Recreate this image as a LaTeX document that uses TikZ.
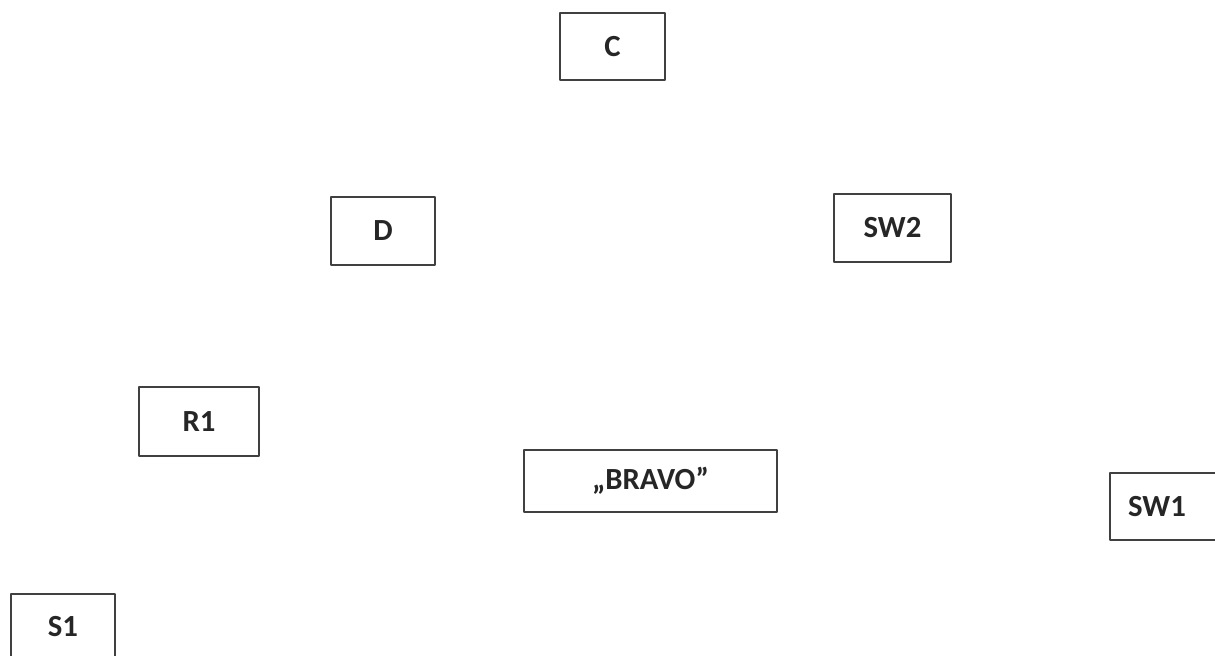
\documentclass[tikz,border=0pt]{standalone}
\usepackage{fontspec}
\setmainfont{Carlito}
\usetikzlibrary{positioning}
\tikzset{
  box/.style={draw=black!75,line width=0.85pt,rectangle,inner sep=0pt,
    font=\fontsize{17.5}{20}\selectfont\bfseries,text=black!85},
}
\begin{document}
\begin{tikzpicture}[x=0.02cm,y=-0.02cm,line join=round]
    % ============ Canvas ============
    \useasboundingbox (0,0) rectangle (1215,656);
    \clip (0,0) rectangle (1215,656);
    % ============ Boxes ============
    \node[box,minimum width=2.10cm,minimum height=1.34cm] (C)     at (612.5,46.5) {C};
    \node[box,minimum width=2.08cm,minimum height=1.36cm] (D)     at (383,231) {D};
    \node[box,minimum width=2.34cm,minimum height=1.36cm] (SW2)   at (892.5,228) {SW2};
    \node[box,minimum width=2.40cm,minimum height=1.38cm] (R1)    at (199,421.5) {R1};
    \node[box,minimum width=5.06cm,minimum height=1.24cm] (BRAVO) at (650.5,481) {„BRAVO”};
    \node[box,minimum width=2.24cm,minimum height=1.34cm] (SW1)   at (1166,506.5) {\hspace*{-0.36cm}SW1};
    \node[box,minimum width=2.08cm,minimum height=1.32cm] (S1)    at (63,627) {S1};
  \end{tikzpicture}
\end{document}
